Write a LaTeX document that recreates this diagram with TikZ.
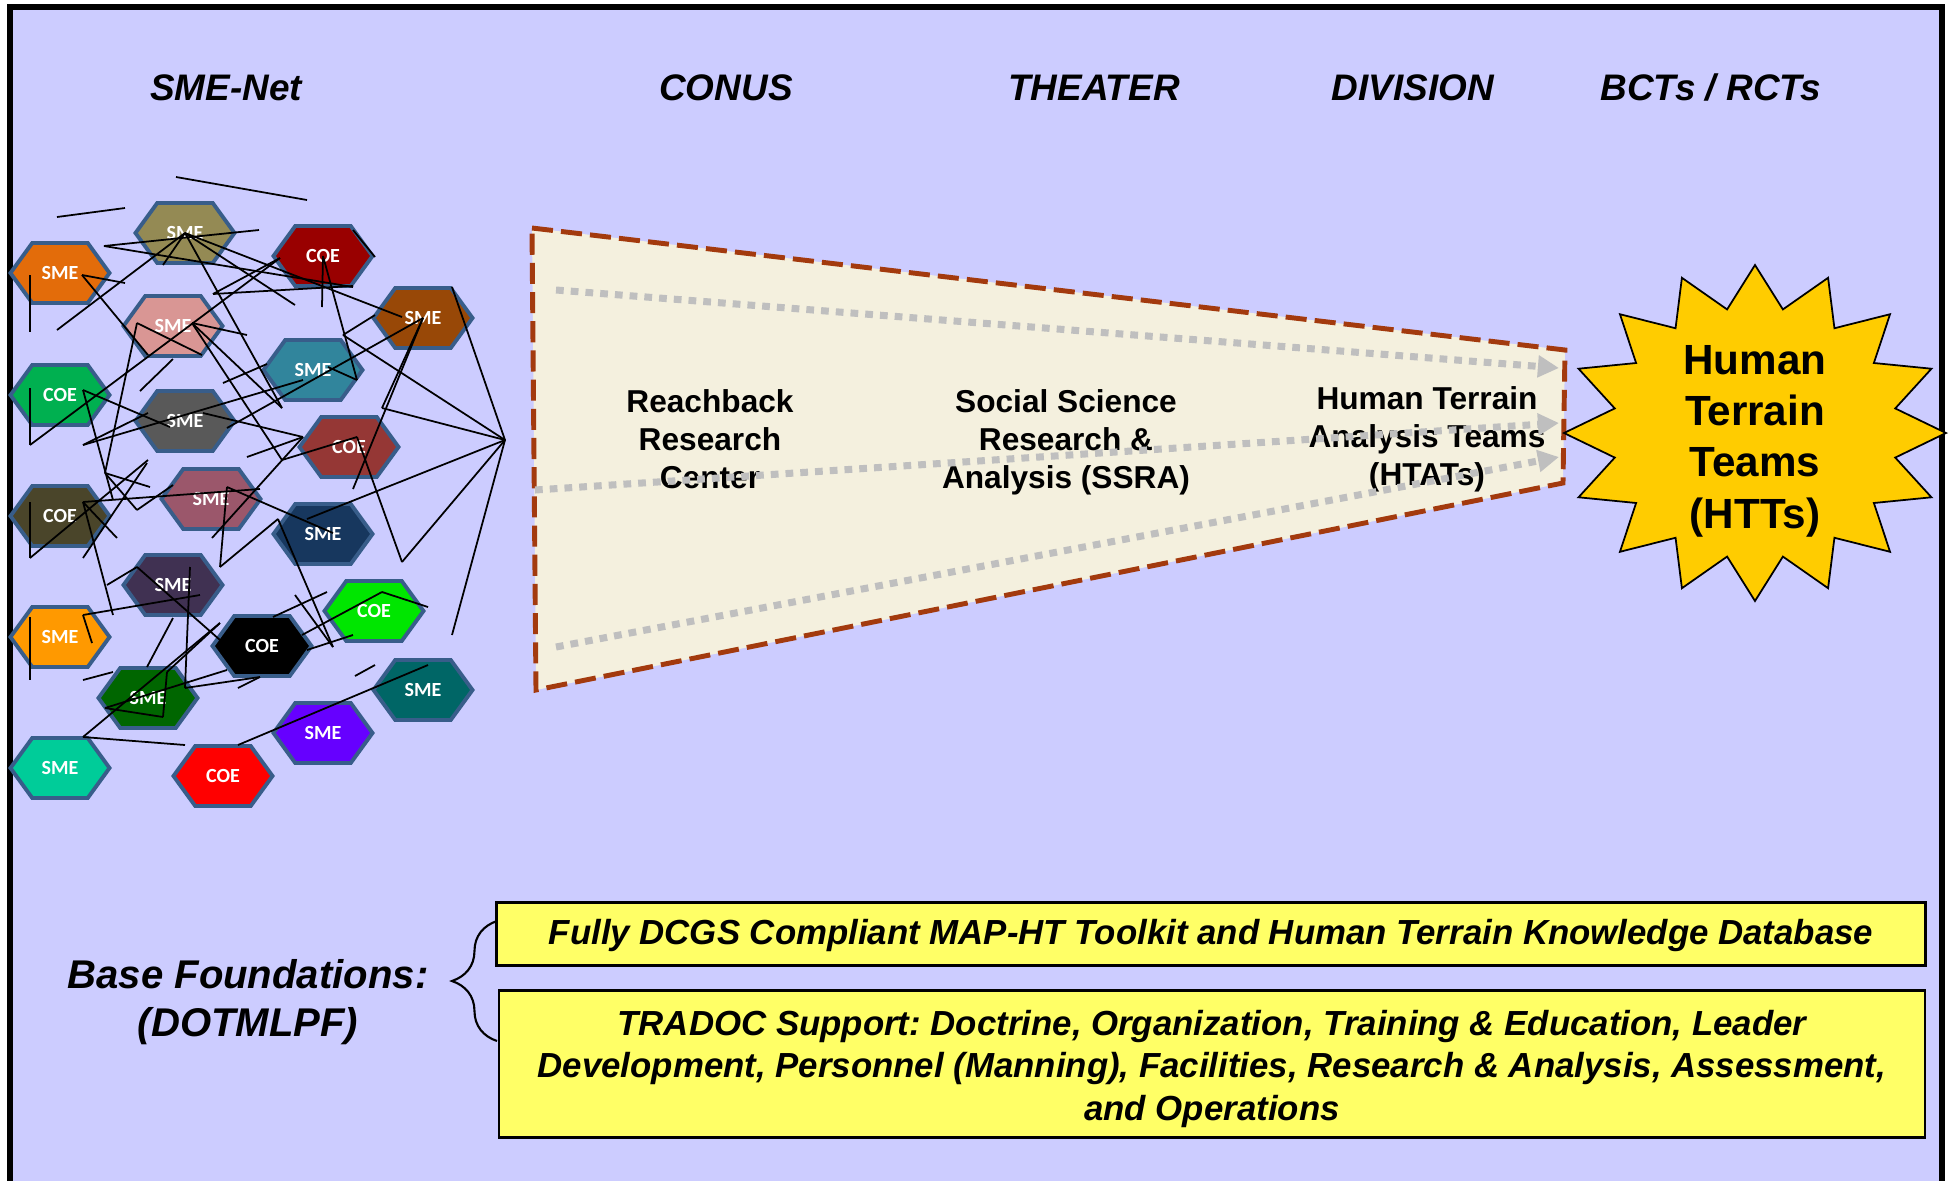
\documentclass[tikz,border=0pt]{standalone}
\usepackage{fontspec}
\setmainfont{Liberation Sans}
\newfontfamily\hexfont{Carlito}
\usetikzlibrary{shapes.symbols,arrows.meta,decorations.pathreplacing}
\frenchspacing

\begin{document}
\begin{tikzpicture}[x=.01cm,y=-.01cm,
 hexbox/.style={signal,signal to=east and west,signal pointer angle=108,
   draw=hexline,line width=1.1pt,minimum width=.99cm,minimum height=.6cm,
   inner sep=0pt,text=white,font=\hexfont\bfseries\fontsize{5.7}{6}\selectfont},
 colhead/.style={anchor=base,font=\bfseries\itshape\fontsize{10.5}{12}\selectfont},
 stage/.style={align=center,font=\bfseries\fontsize{9}{10.8}\selectfont},
 flow/.style={draw=flowgray,line width=2pt,dash pattern=on 2.2pt off 2pt,
   -{Triangle[length=6pt,width=6pt]}},
 wire/.style={line width=.5pt},
 basebox/.style={draw,line width=.7pt,fill=boxfill,align=center,inner sep=0pt,
   font=\bfseries\itshape\fontsize{9.9}{12}\selectfont}]
 \definecolor{bg}{RGB}{204,204,255}
 \definecolor{hexline}{RGB}{56,93,138}
 \definecolor{funnelfill}{RGB}{244,240,222}
 \definecolor{funnelline}{RGB}{163,58,14}
 \definecolor{flowgray}{RGB}{191,191,191}
 \definecolor{starfill}{RGB}{255,204,0}
 \definecolor{boxfill}{RGB}{255,255,102}
 \definecolor{c1}{RGB}{227,108,10}
 \definecolor{c2}{RGB}{148,138,84}
 \definecolor{c3}{RGB}{153,0,0}
 \definecolor{c4}{RGB}{217,150,148}
 \definecolor{c5}{RGB}{152,72,7}
 \definecolor{c6}{RGB}{49,133,156}
 \definecolor{c7}{RGB}{0,176,80}
 \definecolor{c8}{RGB}{89,89,89}
 \definecolor{c9}{RGB}{149,55,53}
 \definecolor{c10}{RGB}{155,87,107}
 \definecolor{c11}{RGB}{74,69,42}
 \definecolor{c12}{RGB}{23,55,94}
 \definecolor{c13}{RGB}{64,49,82}
 \definecolor{c14}{RGB}{0,230,0}
 \definecolor{c15}{RGB}{255,153,0}
 \definecolor{c16}{RGB}{0,0,0}
 \definecolor{c17}{RGB}{0,102,0}
 \definecolor{c18}{RGB}{0,102,102}
 \definecolor{c19}{RGB}{102,0,255}
 \definecolor{c20}{RGB}{0,204,153}
 \definecolor{c21}{RGB}{255,0,0}
 \useasboundingbox (0,0) rectangle (1950,1181);
 \fill[white] (0,0) rectangle (1950,1181);
 \draw[line width=1.7pt,fill=bg] (10,7) rectangle (1942,1200);
 % column heads
 \foreach \xp/\txt [count=\i] in {226/SME-Net, 726/CONUS, 1094/THEATER,
   1413/DIVISION, 1711/{BCTs / RCTs}}
   \node[colhead] (head\i) at (\xp,100) {\txt};
 % SME-Net
 \foreach \xp/\yp/\lbl [count=\i] in {
   60/273/SME, 185/233/SME, 323/256/COE, 173/326/SME, 423/318/SME,
   313/370/SME, 60/395/COE, 185/421/SME, 349/447/COE, 211/499/SME,
   60/516/COE, 323/534/SME, 173/585/SME, 374/611/COE, 60/637/SME,
   262/646/COE, 148/698/SME, 423/690/SME, 323/733/SME, 60/768/SME,
   223/776/COE
 } {
   \node[hexbox,fill=c\i] (h\i) at (\xp,\yp) {\lbl};
 }
 \coordinate (hub) at (505,440);
 \foreach \xp/\yp in {452/287, 343/335, 382/408, 307/519, 402/562, 452/635}
   \draw[wire] (hub) -- (\xp,\yp);
 \foreach \xp/\yp in {163/265, 57/330, 282/408, 295/305, 402/317}
   \draw[wire] (h2.center) -- (\xp,\yp);
 \foreach \xp/\yp in {382/408, 227/428, 353/489}
   \draw[wire] (h5.center) -- (\xp,\yp);
 \foreach \xp/\yp in {322/307, 357/380}
   \draw[wire] (h3.center) -- (\xp,\yp);
 \foreach \ax/\ay/\bx/\by in {
   176/177/307/200, 57/217/125/208, 104/246/259/230, 104/246/353/287,
   82/275/125/283, 82/275/148/355, 30/275/30/332, 353/230/375/257,
   357/380/328/367, 280/258/213/294, 213/294/353/286, 30/445/280/258,
   30/388/30/445, 137/323/202/355, 137/323/105/473, 173/359/140/391,
   192/323/247/335, 192/323/282/408, 192/323/282/460,
   375/315/343/335, 223/383/267/364, 83/445/303/380, 83/445/148/413,
   203/413/303/437, 247/457/303/437, 303/437/212/538, 83/390/170/427,
   83/390/113/500, 282/460/357/437, 357/437/402/562, 30/502/30/558,
   30/558/148/460, 83/558/147/463, 83/502/260/489, 83/502/117/538,
   83/502/113/615, 227/487/333/533, 227/487/220/567, 220/567/278/519,
   278/519/333/647, 137/567/107/585, 137/567/220/640, 200/595/83/615,
   83/615/92/643, 173/618/147/667, 30/617/30/680, 190/567/185/688,
   185/688/260/677, 238/688/260/677, 273/617/327/592, 295/595/333/647,
   302/635/382/592, 382/592/428/607, 307/650/353/635, 105/708/163/717,
   163/717/167/672, 167/672/220/623, 83/737/220/623, 105/708/227/670,
   83/680/113/672, 83/737/185/745, 238/745/428/665, 355/676/375/665,
   105/473/150/487, 105/473/137/510, 137/510/173/485
 }
   \draw[wire] (\ax,\ay) -- (\bx,\by);
 % funnel
 \draw[funnelline,fill=funnelfill,line width=1.4pt,dash pattern=on 6pt off 2.3pt]
   (532,228) -- (1565,350) -- (1563,483) -- (536,690) -- cycle;
 \node[stage] (rrc) at (710,439) {Reachback\\Research\\Center};
 \node[stage] (ssra) at (1066,442) {Social Science\\Research \&\\Analysis (SSRA)};
 \node[stage] (htat) at (1427,439) {Human Terrain\\Analysis Teams\\(HTATs)};
 \coordinate (fa1) at (556,290); \coordinate (fb1) at (1559,368);
 \coordinate (fa2) at (535,490); \coordinate (fb2) at (1559,423);
 \coordinate (fa3) at (556,647); \coordinate (fb3) at (1559,457);
 \foreach \i in {1,2,3}
   \draw[flow] (fa\i) -- (fb\i);
 % HTTs
 \draw[fill=starfill,line width=.5pt,shift={(1755,433)}] (0:191 and 168)
   \foreach \k in {0,...,15} { -- ({\k*22.5+11.25}:143 and 126)
     -- ({\k*22.5+22.5}:191 and 168) } -- cycle;
 \node[align=center,font=\bfseries\fontsize{12}{14.6}\selectfont] (htt)
   at (1755,441) {Human\\Terrain\\Teams\\(HTTs)};
 % foundations
 \node[align=center,font=\bfseries\itshape\fontsize{11.4}{13.8}\selectfont] (base)
   at (248,1002) {Base Foundations:\\(DOTMLPF)};
 \draw[line width=.6pt,decorate,decoration={brace,amplitude=.45cm}]
   (497,1041) -- (497,921);
 \node[basebox,minimum width=14.28cm,minimum height=.63cm] (kdb) at (1211,934)
   {\rule{0pt}{8pt}Fully DCGS Compliant MAP-HT Toolkit and Human Terrain Knowledge Database};
 \node[basebox,minimum width=14.25cm,minimum height=1.47cm] (tradoc) at (1212,1064)
   {\rule{0pt}{10pt}TRADOC Support: Doctrine, Organization, Training \& Education, Leader\\
    Development, Personnel (Manning), Facilities, Research \& Analysis, Assessment,\\
    and Operations};
\end{tikzpicture}
\end{document}
